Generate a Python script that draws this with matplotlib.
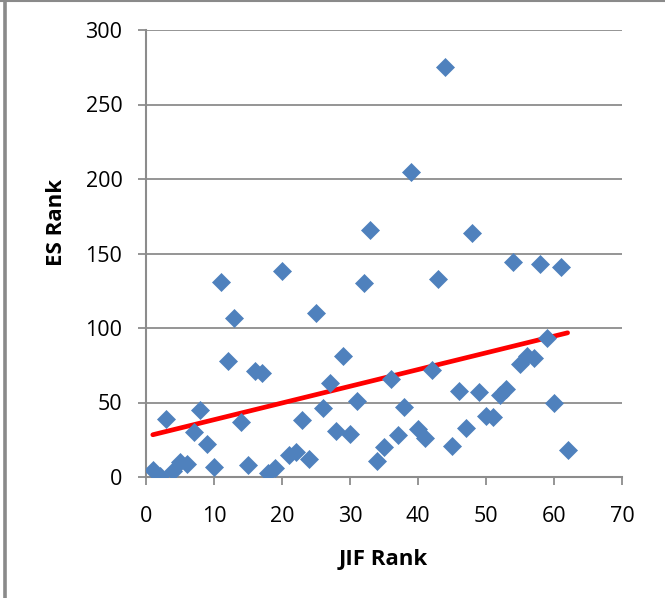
import matplotlib
matplotlib.use("Agg")
import matplotlib.pyplot as plt
import numpy as np
from matplotlib.lines import Line2D

# JIF rank vs ES rank
jif_rank = [1, 2, 3, 4, 5, 6, 7, 8, 9, 10,
            11, 12, 13, 14, 15, 16, 17, 18, 19, 20,
            21, 22, 23, 24, 25, 26, 27, 28, 29, 30,
            31, 32, 33, 34, 35, 36, 37, 38, 39, 40,
            41, 42, 43, 44, 45, 46, 47, 48, 49, 50,
            51, 52, 53, 54, 55, 56, 57, 58, 59, 60,
            61, 62]
es_rank = [5, 1, 39, 4, 10, 9, 30, 45, 22, 7,
           131, 78, 107, 37, 8, 71, 70, 3, 6, 138,
           15, 17, 38, 12, 110, 46, 63, 31, 81, 29,
           51, 130, 166, 11, 20, 66, 28, 47, 205, 32,
           26, 72, 133, 275, 21, 58, 33, 164, 57, 41,
           40, 55, 59, 144, 76, 81, 80, 143, 93, 50,
           141, 18]

x_ticks = [0, 10, 20, 30, 40, 50, 60, 70]
y_ticks = [0, 50, 100, 150, 200, 250, 300]

grid_col = '#8c8c8c'
plt.rcParams['font.family'] = ['Open Sans', 'DejaVu Sans']

fig = plt.figure(figsize=(6.65, 5.98), dpi=100)
ax = fig.add_axes([146/665, 1-477/598, 476/665, 447/598])

# linear trendline (least squares), drawn over the data range like Excel
slope, intercept = np.polyfit(jif_rank, es_rank, 1)
xs = np.array([min(jif_rank), max(jif_rank)])
ax.plot(xs, slope*xs + intercept, color='#ff0000', lw=3.4,
        solid_capstyle='round', zorder=2)

ax.plot(jif_rank, es_rank, linestyle='none', marker='D', markersize=9,
        color='#4f81bd', mec='#4f81bd', mew=0.5, zorder=3)

ax.set_xlim(0, 70)
ax.set_ylim(0, 300)
ax.set_xticks(x_ticks)
ax.set_yticks(y_ticks)
ax.yaxis.grid(True, color=grid_col, lw=1.3)
ax.set_axisbelow(True)

for s in ['top', 'right']:
    ax.spines[s].set_visible(False)
for s in ['left', 'bottom']:
    ax.spines[s].set_color(grid_col)
    ax.spines[s].set_linewidth(1.5)

ax.tick_params(axis='both', direction='out', length=6, width=1.3,
               color=grid_col, labelsize=15.5, labelcolor='black')
ax.tick_params(axis='x', pad=15)
ax.tick_params(axis='y', pad=11)

ax.set_xlabel('JIF Rank', fontsize=16, fontweight='bold', va='center')
ax.set_ylabel('ES Rank', fontsize=16, fontweight='bold', va='center')
ax.xaxis.set_label_coords((383-146)/476, (477-560)/447)
ax.yaxis.set_label_coords((57-146)/476, (477-222)/447)

# outer chart border (top and left edge)
fig.add_artist(Line2D([0, 1], [1-1/598, 1-1/598], transform=fig.transFigure,
                      color='#8a8a8a', lw=1.5))
fig.add_artist(Line2D([5/665, 5/665], [0, 1], transform=fig.transFigure,
                      color='#8a8a8a', lw=2.6))

fig.savefig('out.png', dpi=100)
